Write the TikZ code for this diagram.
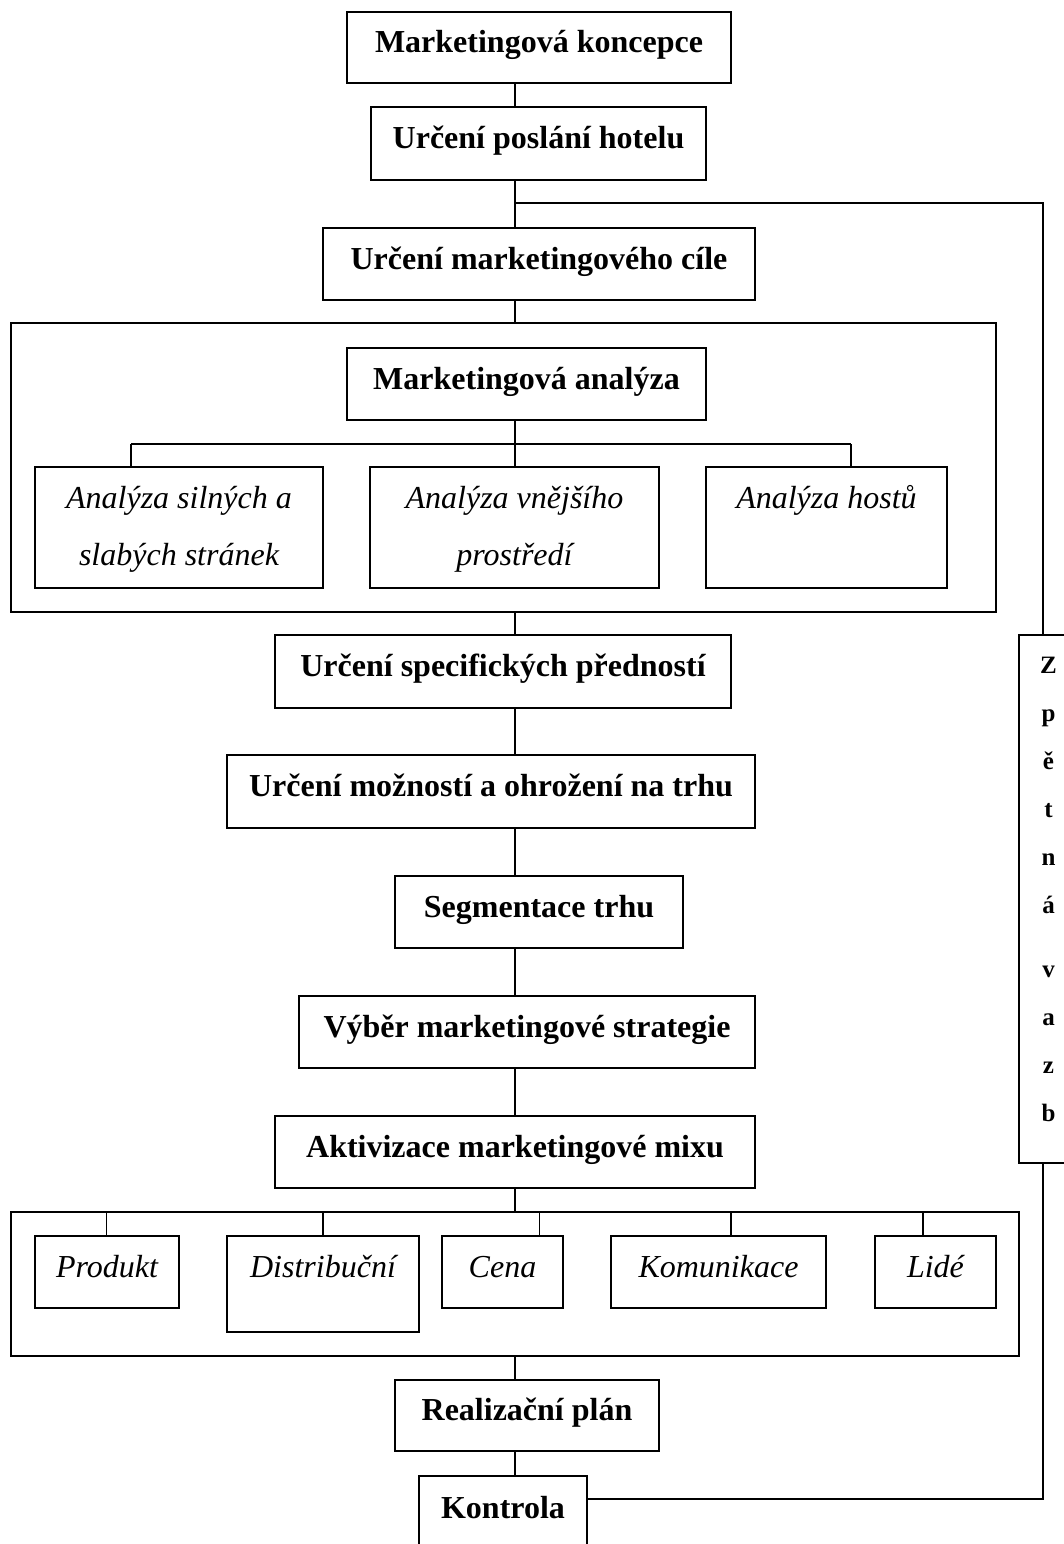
\documentclass[tikz,border=0pt]{standalone}
\usepackage{fontspec}
\setmainfont{Liberation Serif}
\begin{document}
\begin{tikzpicture}[x=0.5pt,y=-0.5pt,
  frame/.style={draw, line width=1pt, inner sep=0pt},
  stage/.style={frame, font=\fontsize{16}{19}\selectfont\bfseries,
    text height=9.6pt, text depth=4.6pt},
  boxat/.style n args={4}{minimum width={(#3-#1)*0.5pt},
    minimum height={(#4-#2)*0.5pt}, at={({(#1+#3)/2},{(#2+#4)/2})}},
  item/.style={inner sep=0pt, anchor=base, font=\fontsize{16}{28.5}\selectfont\itshape},
  label text/.style={inner sep=0pt, anchor=base, font=\fontsize{16}{19}\selectfont\bfseries},
  link/.style={line width=0.8pt}]

\useasboundingbox (0,0) rectangle (1064,1544);
\fill[white] (0,0) rectangle (1064,1544);
\clip (0,0) rectangle (1064,1544);

% main chain
\node[stage, boxat={347}{12}{731}{83}] (konc) {Marketingová koncepce};
\node[stage, boxat={371}{107}{706}{180}] (posl) {Určení poslání hotelu};
\node[stage, boxat={323}{228}{755}{300}] (cil) {Určení marketingového cíle};

% analysis group
\node[frame, boxat={11}{323}{996}{612}] (big1) {};
\node[stage, boxat={347}{348}{706}{420}] (anal) {Marketingová analýza};
\node[frame, boxat={35}{467}{323}{588}] (a1) {};
\node[frame, boxat={370}{467}{659}{588}] (a2) {};
\node[frame, boxat={706}{467}{947}{588}] (a3) {};
\node[item] (a1t) at (179,508) {\begin{tabular}[t]{@{}c@{}}Analýza silných a\\slabých stránek\end{tabular}};
\node[item] (a2t) at (514.5,508) {\begin{tabular}[t]{@{}c@{}}Analýza vnějšího\\prostředí\end{tabular}};
\node[item] (a3t) at (826.5,508) {Analýza hostů};

\node[stage, boxat={275}{635}{731}{708}] (spec) {Určení specifických předností};
\node[stage, boxat={227}{755}{755}{828}] (mozn) {Určení možností a ohrožení na trhu};
\node[stage, boxat={395}{876}{683}{948}] (segm) {Segmentace trhu};
\node[stage, boxat={299}{996}{755}{1068}] (vyber) {Výběr marketingové strategie};
\node[stage, boxat={275}{1116}{755}{1188}] (aktiv) {Aktivizace marketingové mixu};

% marketing mix group
\node[frame, boxat={11}{1212}{1019}{1356}] (big2) {};
\node[frame, boxat={35}{1236}{179}{1308}] (prod) {};
\node[frame, boxat={227}{1236}{419}{1332}] (dist) {};
\node[frame, boxat={442}{1236}{563}{1308}] (cena) {};
\node[frame, boxat={611}{1236}{826}{1308}] (komu) {};
\node[frame, boxat={875}{1236}{996}{1308}] (lide) {};
\node[item] (prodt) at (107,1277) {Produkt};
\node[item] (distt) at (323,1277) {Distribuční};
\node[item] (cenat) at (502.5,1277) {Cena};
\node[item] (komut) at (718.5,1277) {Komunikace};
\node[item] (lidet) at (935.5,1277) {Lidé};

\node[stage, boxat={395}{1380}{659}{1451}] (real) {Realizační plán};
\node[frame, boxat={419}{1476}{587}{1600}] (kont) {};
\node[label text] (kontt) at (503,1518) {Kontrola};

% feedback column
\node[frame, boxat={1019}{635}{1110}{1163}] (zv) {};
\node[inner sep=0pt, anchor=base, font=\fontsize{12.5}{24}\selectfont\bfseries] (zvt) at (1048.5,673)
  {\begin{tabular}[t]{@{}c@{}}Z\\p\\ě\\t\\n\\á\\[8pt]v\\a\\z\\b\end{tabular}};

% connectors along the spine
\coordinate (sp) at (515,0);
\draw[link] (konc.south -| sp) -- (posl.north -| sp);
\draw[link] (posl.south -| sp) -- (cil.north -| sp);
\draw[link] (cil.south -| sp) -- (big1.north -| sp);
\draw[link] (big1.south -| sp) -- (spec.north -| sp);
\draw[link] (spec.south -| sp) -- (mozn.north -| sp);
\draw[link] (mozn.south -| sp) -- (segm.north -| sp);
\draw[link] (segm.south -| sp) -- (vyber.north -| sp);
\draw[link] (vyber.south -| sp) -- (aktiv.north -| sp);
\draw[link] (aktiv.south -| sp) -- (big2.north -| sp);
\draw[link] (big2.south -| sp) -- (real.north -| sp);
\draw[link] (real.south -| sp) -- (kont.north -| sp);

% analysis branches
\coordinate (ab) at (515,444);
\coordinate (b1) at (131,444);
\coordinate (b3) at (851,444);
\draw[link] (anal.south -| sp) -- (ab);
\draw[link] (b1) -- (b3);
\draw[link] (b1) -- (a1.north -| b1);
\draw[link] (ab) -- (a2.north -| ab);
\draw[link] (b3) -- (a3.north -| b3);

% marketing mix ticks
\coordinate (m1) at (106.5,0);
\coordinate (m2) at (323,0);
\coordinate (m3) at (539.5,0);
\coordinate (m4) at (731,0);
\coordinate (m5) at (923,0);
\draw[link] (big2.north -| m1) -- (prod.north -| m1);
\draw[link] (big2.north -| m2) -- (dist.north -| m2);
\draw[link] (big2.north -| m3) -- (cena.north -| m3);
\draw[link] (big2.north -| m4) -- (komu.north -| m4);
\draw[link] (big2.north -| m5) -- (lide.north -| m5);

% feedback loop
\coordinate (fa) at (515,203);
\coordinate (fc) at (1043,0);
\coordinate (fb) at (1043,1499);
\draw[link] (fa) -| (zv.north -| fc);
\draw[link] (kont.east |- fb) -- (fb) -- (zv.south -| fb);
\end{tikzpicture}
\end{document}
